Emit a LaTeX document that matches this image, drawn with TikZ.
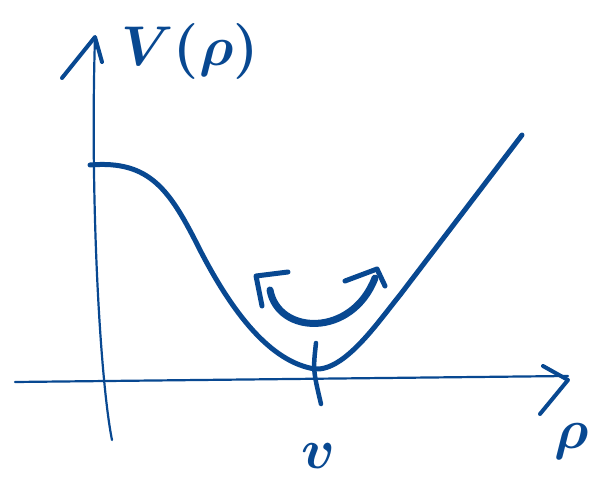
\documentclass[tikz,border=0pt]{standalone}
\usetikzlibrary{positioning}
\definecolor{ink}{RGB}{8,72,145}
\tikzset{pen/.style = {ink, line width=5pt, line cap=round, line join=round}}
\tikzset{fine/.style = {ink, line width=2.2pt, line cap=round, line join=round}}
\tikzset{lbl/.style = {ink, inner sep=0pt, scale=5.6, font=\boldmath}}

\begin{document}
\begin{tikzpicture}[x=1pt, y=-1pt]
  \useasboundingbox (0,0) rectangle (598,489);
  % axes
  \coordinate (ybot) at (112,440);
  \coordinate (ytop) at (95,37);
  \coordinate (xleft) at (15,382);
  \coordinate (xright) at (568,376);
  \draw[fine] (ybot) .. controls (100,380) and (90,200) .. (ytop);
  \draw[fine] (xleft) -- (xright);
  % arrow heads, drawn by hand
  \draw[pen, line width=4pt] (62,78) -- (ytop) -- (102,62);
  \draw[pen, line width=4pt] (543,366) -- (568,380) -- (540,414);
  % tick at the minimum
  \coordinate (tktop) at (316,343);
  \coordinate (tkbot) at (321,404);
  \draw[pen, line width=4.5pt] (tktop) .. controls (313,370) .. (tkbot);
  % potential
  \coordinate (start) at (90,165);
  \coordinate (vmin) at (315,369);
  \coordinate (bend) at (400,295);
  \coordinate (stop) at (522,135);
  \draw[pen] (start) .. controls (150,160) and (170,190) .. (200,250)
    .. controls (232,312) and (270,362) .. (vmin)
    .. controls (345,371) and (378,322) .. (bend) -- (stop);
  % rolling arrow
  \coordinate (rollL) at (270,290);
  \coordinate (rollR) at (375,278);
  \draw[pen, line width=7pt] (rollL) .. controls (278,335) and (352,338) .. (rollR);
  \draw[pen] (262,306) -- (256,276) -- (288,272);
  \draw[pen] (345,281) -- (377,269) -- (385,286);
  % labels
  \node[lbl] (vlab) at (190,52) {$V(\rho)$};
  \node[lbl] (rholab) at (572,442) {$\rho$};
  \node[lbl] (minlab) at (318,456) {$v$};
\end{tikzpicture}
\end{document}
